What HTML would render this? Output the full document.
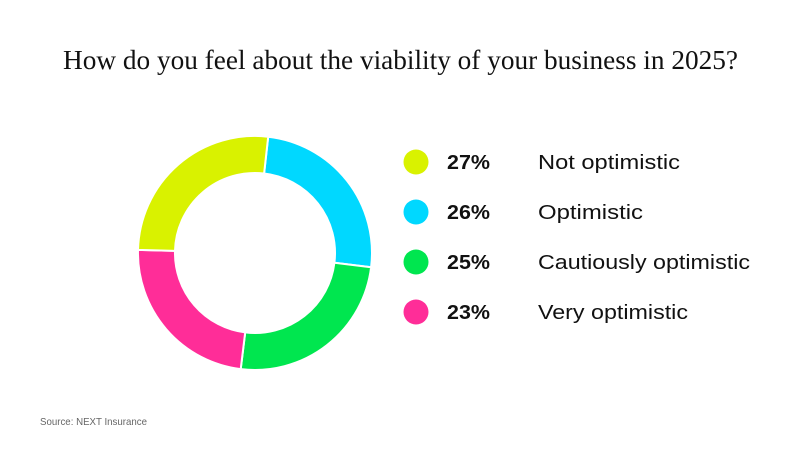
<!DOCTYPE html>
<html><head><meta charset="utf-8"><style>
html,body{margin:0;padding:0;background:#fff;}
svg{display:block;}
</style></head><body>
<svg width="802" height="454" viewBox="0 0 802 454" xmlns="http://www.w3.org/2000/svg">
<rect width="802" height="454" fill="#fff"/>
<text x="63" y="69" font-family="Liberation Serif, serif" font-size="27" fill="#111" textLength="675" lengthAdjust="spacingAndGlyphs">How do you feel about the viability of your business in 2025?</text>
<g stroke="#fff" stroke-width="2" stroke-linejoin="miter">
<path d="M268.2,136.7 A117,117 0 0 1 371.1,267.3 L334.4,262.8 A80,80 0 0 0 264.1,173.5 Z" fill="#00d8ff"/>
<path d="M371.1,267.3 A117,117 0 0 1 240.7,369.1 L245.2,332.4 A80,80 0 0 0 334.4,262.8 Z" fill="#00e64f"/>
<path d="M240.7,369.1 A117,117 0 0 1 138.0,249.9 L175.0,250.9 A80,80 0 0 0 245.2,332.4 Z" fill="#ff2d98"/>
<path d="M138.0,249.9 A117,117 0 0 1 268.2,136.7 L264.1,173.5 A80,80 0 0 0 175.0,250.9 Z" fill="#d9f200"/>
</g>
<g font-family="Liberation Sans, sans-serif" font-size="20">
<circle cx="416" cy="162" r="12.5" fill="#d9f200"/>
<text x="447" y="169" font-weight="bold" fill="#111" textLength="43" lengthAdjust="spacingAndGlyphs">27%</text>
<text x="538" y="169" fill="#111" textLength="142" lengthAdjust="spacingAndGlyphs">Not optimistic</text>
<circle cx="416" cy="212" r="12.5" fill="#00d8ff"/>
<text x="447" y="219" font-weight="bold" fill="#111" textLength="43" lengthAdjust="spacingAndGlyphs">26%</text>
<text x="538" y="219" fill="#111" textLength="105" lengthAdjust="spacingAndGlyphs">Optimistic</text>
<circle cx="416" cy="262" r="12.5" fill="#00e64f"/>
<text x="447" y="269" font-weight="bold" fill="#111" textLength="43" lengthAdjust="spacingAndGlyphs">25%</text>
<text x="538" y="269" fill="#111" textLength="212" lengthAdjust="spacingAndGlyphs">Cautiously optimistic</text>
<circle cx="416" cy="312" r="12.5" fill="#ff2d98"/>
<text x="447" y="319" font-weight="bold" fill="#111" textLength="43" lengthAdjust="spacingAndGlyphs">23%</text>
<text x="538" y="319" fill="#111" textLength="150" lengthAdjust="spacingAndGlyphs">Very optimistic</text>
</g>
<text x="40" y="425" font-family="Liberation Sans, sans-serif" font-size="10.5" fill="#666" textLength="107" lengthAdjust="spacingAndGlyphs">Source: NEXT Insurance</text>
</svg>
</body></html>
